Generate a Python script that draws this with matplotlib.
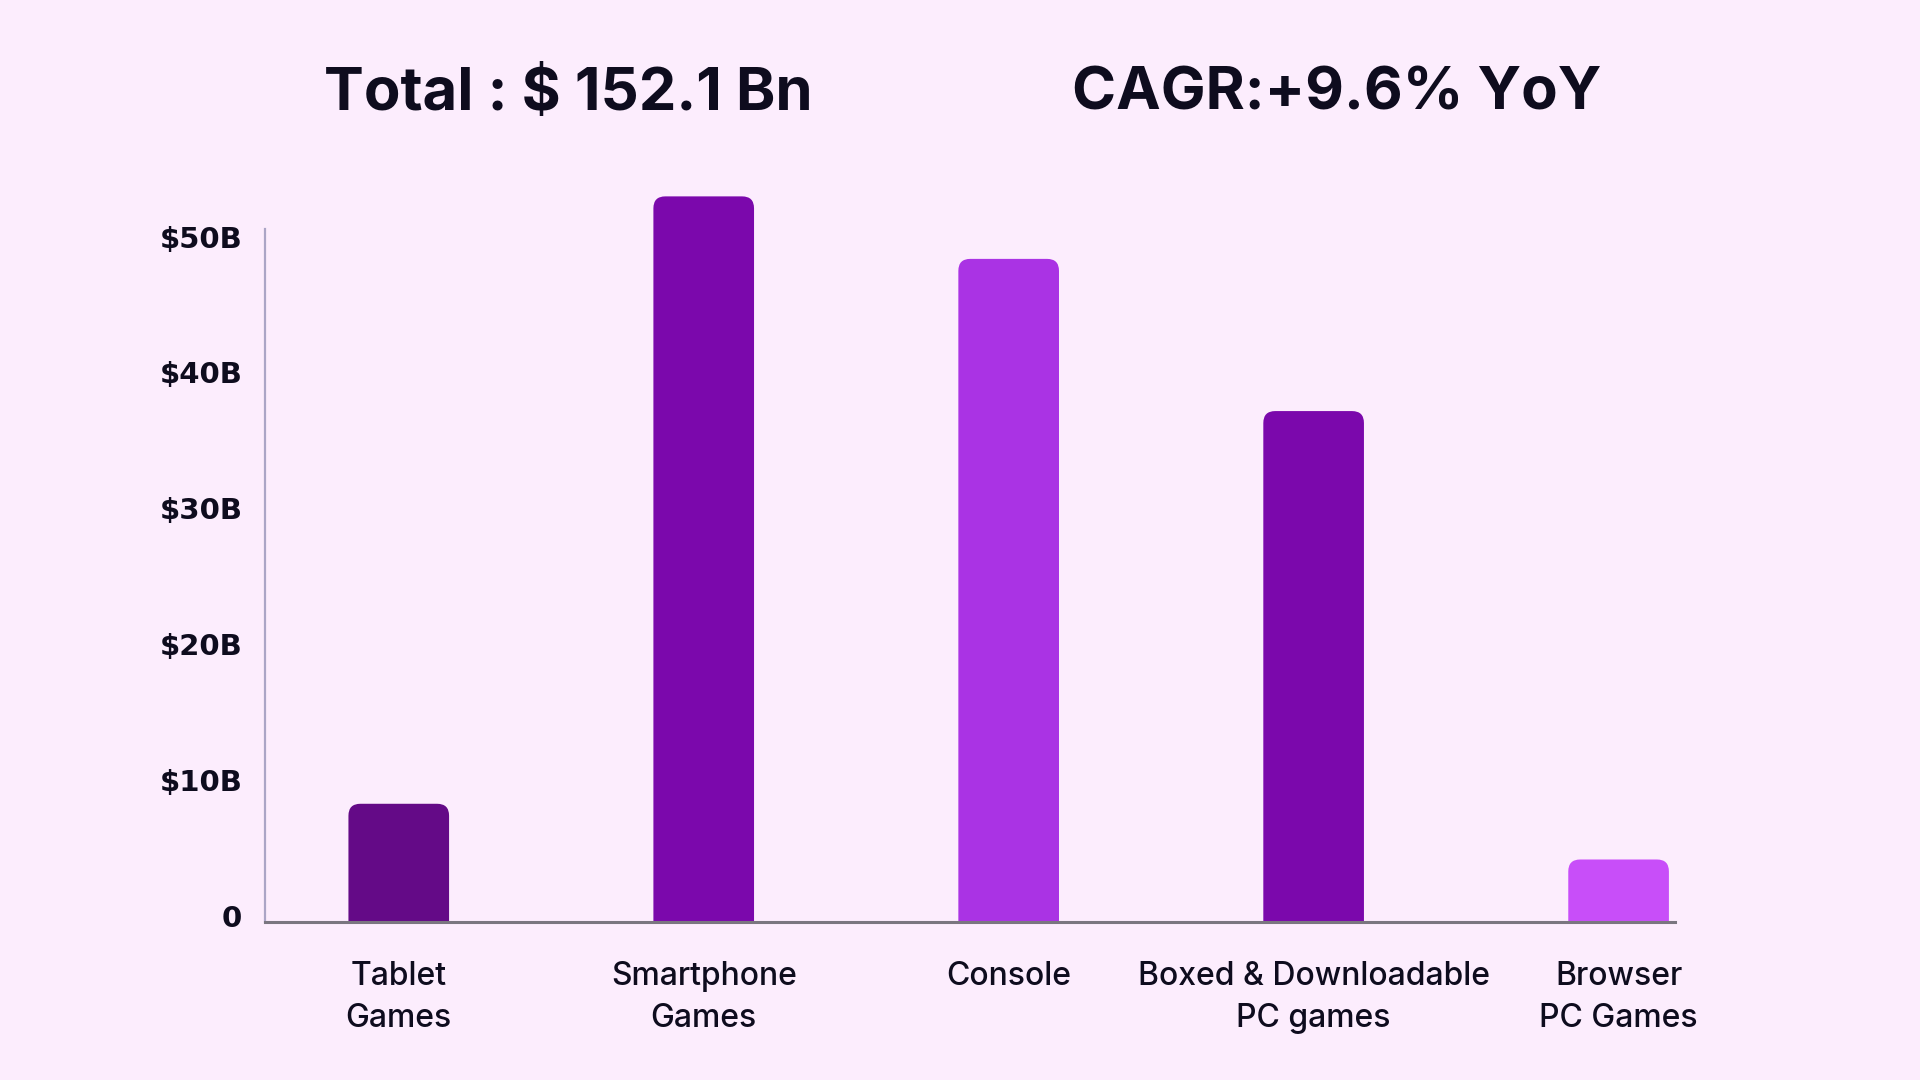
import matplotlib
matplotlib.use("Agg")
import matplotlib.pyplot as plt
import matplotlib.transforms as mtransforms
from matplotlib.patches import FancyBboxPatch

categories = ["Tablet\nGames", "Smartphone\nGames", "Console", "Boxed & Downloadable\nPC games", "Browser\nPC Games"]
values = [8.7, 53.4, 48.8, 37.6, 4.6]
bar_colors = ["#640A87", "#7B08AC", "#AA33E4", "#7B08AC", "#C84EF9"]
y_ticks = [0, 10, 20, 30, 40, 50]
y_tick_labels = ["0", "$10B", "$20B", "$30B", "$40B", "$50B"]
title_left = "Total : $ 152.1 Bn"
title_right = "CAGR:+9.6% YoY"

BG = "#FCEDFD"
TEXT = "#0E0C1E"

fig = plt.figure(figsize=(19.2, 10.8), dpi=100, facecolor=BG)
ax = fig.add_axes([0.1378, 0.1463, 0.7346, 0.692])
ax.set_facecolor(BG)

x = list(range(len(categories)))
bars = ax.bar(x, values, width=0.33, color=bar_colors)
ax.set_xlim(-0.44, 4.185)
ax.set_ylim(0, 55)

# replace bars with rounded-top versions
rx = 0.039
aspect = 22.5
for b in bars:
    bx, by = b.get_x(), b.get_y()
    w, h = b.get_width(), b.get_height()
    col = b.get_facecolor()
    b.set_visible(False)
    p = FancyBboxPatch((bx, by - 3), w, h + 3,
                       boxstyle=f"round,pad=0,rounding_size={rx}",
                       mutation_aspect=aspect, facecolor=col, edgecolor="none",
                       clip_on=True)
    ax.add_patch(p)

for s in ["top", "right"]:
    ax.spines[s].set_visible(False)
ax.spines["left"].set_bounds(0, 51)
ax.spines["left"].set_color("#ABA5C6")
ax.spines["left"].set_linewidth(1.6)
ax.spines["bottom"].set_color("#7A7680")
ax.spines["bottom"].set_linewidth(2.2)

ax.set_yticks(y_ticks)
ax.set_yticklabels(y_tick_labels, fontsize=21, fontweight="bold", color=TEXT,
                   family=["DejaVu Sans"])
ax.tick_params(axis="y", length=0, pad=16)
shift = mtransforms.ScaledTranslation(0, 6 / 100, fig.dpi_scale_trans)
for lbl in ax.get_yticklabels():
    lbl.set_transform(lbl.get_transform() + shift)
ax.set_xticks(x)
ax.set_xticklabels(categories, fontsize=23, color=TEXT, linespacing=1.45,
                   family=["Inter", "DejaVu Sans"], fontweight="medium")
ax.tick_params(axis="x", length=0, pad=28)

fig.text(568 / 1920, 1 - 110 / 1080, title_left, ha="center", va="baseline",
         fontsize=43, fontweight="bold", color=TEXT, family=["Inter", "DejaVu Sans"])
fig.text(1337 / 1920, 1 - 110 / 1080, title_right, ha="center", va="baseline",
         fontsize=43, fontweight="bold", color=TEXT, family=["Inter", "DejaVu Sans"])

fig.savefig("out.png", dpi=100, facecolor=BG)
